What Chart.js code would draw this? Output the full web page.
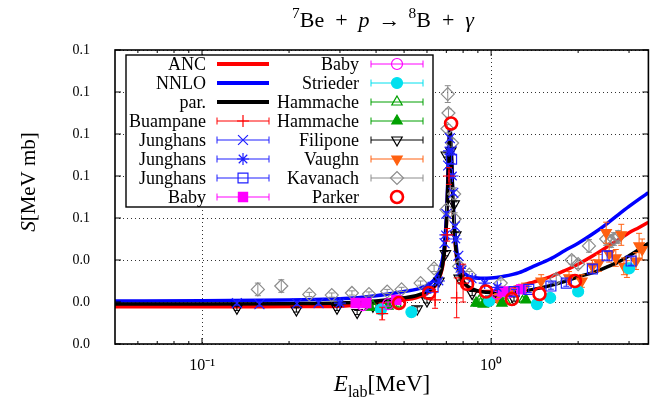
<!DOCTYPE html>
<html>
<head>
<meta charset="utf-8">
<script src="https://cdn.jsdelivr.net/npm/chart.js@4.4.1/dist/chart.umd.min.js"></script>
<style>
  html, body { margin: 0; padding: 0; background: #fff; }
</style>
</head>
<body>
<canvas id="sfactorChart" width="657" height="402"></canvas>
<script>
//Axis ticks
const xMajorTicks = [0.1, 1];
const xTickLabels = ['10\u207B\u00B9', '10\u2070'];
const xMinorTicks = [0.06, 0.07, 0.08, 0.09, 0.2, 0.3, 0.4, 0.5, 0.6, 0.7, 0.8, 0.9, 2, 3];
const yTickValues = [0, 0.02, 0.04, 0.06, 0.08, 0.10, 0.12, 0.14];

//Theory curves, E_lab in MeV, S in MeV mb
const eTheory = [0.05, 0.1, 0.2, 0.3, 0.4, 0.5, 0.55, 0.6, 0.63, 0.65, 0.67, 0.68, 0.69, 0.7, 0.705, 0.71, 0.715, 0.72, 0.725, 0.73, 0.735, 0.74, 0.75, 0.76, 0.77, 0.78, 0.8, 0.83, 0.87, 0.92, 1.0, 1.1, 1.25, 1.4, 1.6, 1.8, 2.0, 2.25, 2.5, 2.75, 3.0, 3.25, 3.5];
const sANC = [0.0177, 0.0177, 0.0178, 0.018, 0.0195, 0.021, 0.022, 0.024, 0.0265, 0.029, 0.0335, 0.037, 0.044, 0.056, 0.066, 0.080, 0.093, 0.100, 0.097, 0.086, 0.074, 0.063, 0.049, 0.041, 0.036, 0.033, 0.0295, 0.027, 0.0255, 0.025, 0.025, 0.0258, 0.0275, 0.0295, 0.032, 0.035, 0.038, 0.042, 0.046, 0.0495, 0.053, 0.0555, 0.058];
const sNNLO = [0.0205, 0.0206, 0.021, 0.0215, 0.023, 0.025, 0.026, 0.0278, 0.030, 0.0325, 0.037, 0.041, 0.048, 0.060, 0.070, 0.083, 0.095, 0.102, 0.099, 0.088, 0.076, 0.066, 0.053, 0.045, 0.040, 0.037, 0.0345, 0.0325, 0.0317, 0.0313, 0.0314, 0.0322, 0.034, 0.037, 0.0405, 0.0445, 0.048, 0.0525, 0.057, 0.0615, 0.0655, 0.069, 0.072];
const sPar = [0.019, 0.019, 0.0192, 0.0195, 0.0205, 0.022, 0.023, 0.025, 0.027, 0.0295, 0.034, 0.038, 0.045, 0.057, 0.067, 0.081, 0.094, 0.101, 0.098, 0.087, 0.075, 0.064, 0.050, 0.042, 0.037, 0.034, 0.030, 0.0275, 0.026, 0.025, 0.0245, 0.0245, 0.025, 0.026, 0.0278, 0.0298, 0.032, 0.034, 0.0365, 0.039, 0.042, 0.045, 0.048];

//Measurements: energy, S factor, error
const buampaneE = [0.42, 0.64, 0.705, 0.715, 0.76, 0.80];
const buampaneS = [0.0145, 0.021, 0.052, 0.080, 0.022, 0.029];
const buampaneErr = [0.003, 0.004, 0.003, 0.004, 0.0095, 0.009];

const junghansXE = [0.132, 0.158, 0.213, 0.253, 0.69, 0.70, 0.71, 0.72, 0.73, 0.74, 0.75, 0.77, 0.79];
const junghansXS = [0.0195, 0.019, 0.0193, 0.0195, 0.048, 0.062, 0.085, 0.098, 0.092, 0.072, 0.056, 0.042, 0.035];
const junghansXErr = [0.001, 0.001, 0.001, 0.001, 0.001, 0.001, 0.001, 0.001, 0.001, 0.001, 0.001, 0.001, 0.001];

const junghansStarE = [0.30, 0.60, 0.66, 0.695, 0.715, 0.735, 0.755, 0.78, 0.86, 0.95, 1.05];
const junghansStarS = [0.0195, 0.026, 0.030, 0.052, 0.092, 0.080, 0.050, 0.036, 0.031, 0.029, 0.027];
const junghansStarErr = [0.001, 0.001, 0.001, 0.001, 0.001, 0.001, 0.001, 0.001, 0.001, 0.001, 0.001];

const junghansSqE = [0.63, 0.73, 1.2, 1.35, 1.61, 1.82, 2.24, 2.52, 3.05];
const junghansSqS = [0.027, 0.088, 0.025, 0.026, 0.0276, 0.029, 0.0357, 0.042, 0.0395];
const junghansSqErr = [0.001, 0.002, 0.001, 0.0015, 0.0015, 0.0015, 0.002, 0.002, 0.002];

const babySqE = [0.34, 0.37, 0.47, 1.1, 1.27];
const babySqS = [0.0195, 0.0195, 0.021, 0.025, 0.026];
const babySqErr = [0.001, 0.001, 0.001, 0.001, 0.001];

const babyCircE = [0.36, 0.44, 1.05, 1.15];
const babyCircS = [0.0185, 0.019, 0.024, 0.0245];
const babyCircErr = [0.001, 0.001, 0.001, 0.001];

const striederE = [0.416, 0.53, 0.985, 1.44, 1.6, 2.0, 3.0];
const striederS = [0.0165, 0.0152, 0.0205, 0.019, 0.022, 0.025, 0.036];
const striederErr = [0.001, 0.001, 0.001, 0.001, 0.001, 0.001, 0.0015];

const hammacheOpenE = [0.39, 0.47, 0.91, 1.12, 1.3];
const hammacheOpenS = [0.018, 0.019, 0.0205, 0.0205, 0.0215];
const hammacheOpenErr = [0.001, 0.001, 0.001, 0.001, 0.001];

const hammacheFullE = [0.38, 0.44, 0.887, 0.94, 1.09, 1.32];
const hammacheFullS = [0.0175, 0.018, 0.0195, 0.019, 0.0195, 0.021];
const hammacheFullErr = [0.0012, 0.0012, 0.0015, 0.0012, 0.0012, 0.0012];

const filiponeE = [0.132, 0.212, 0.293, 0.344, 0.39, 0.555, 0.60, 0.66, 0.695, 0.70, 0.725, 0.745, 0.755, 0.775, 0.86, 1.0, 1.2];
const filiponeS = [0.017, 0.0162, 0.017, 0.015, 0.018, 0.0167, 0.0205, 0.030, 0.043, 0.090, 0.092, 0.0667, 0.052, 0.0314, 0.024, 0.0214, 0.0214];
const filiponeErr = [0.001, 0.001, 0.001, 0.001, 0.001, 0.001, 0.001, 0.001, 0.001, 0.001, 0.001, 0.001, 0.001, 0.001, 0.001, 0.001, 0.001];

const vaughnE = [1.0, 1.05, 1.17, 1.3, 1.49, 1.86, 2.06, 2.24, 2.36, 2.5, 2.56, 2.7, 2.82, 2.88, 2.95, 3.17, 3.25, 3.33];
const vaughnS = [0.021, 0.022, 0.025, 0.027, 0.030, 0.0315, 0.030, 0.037, 0.0386, 0.053, 0.043, 0.041, 0.052, 0.037, 0.0357, 0.0395, 0.0467, 0.045];
const vaughnErr = [0.002, 0.002, 0.002, 0.002, 0.003, 0.003, 0.003, 0.003, 0.004, 0.005, 0.004, 0.004, 0.005, 0.004, 0.004, 0.004, 0.006, 0.005];

const kavanachE = [0.156, 0.188, 0.235, 0.281, 0.33, 0.378, 0.437, 0.49, 0.57, 0.635, 0.70, 0.706, 0.708, 0.712, 0.733, 0.745, 0.748, 0.775, 0.84, 1.08, 1.68, 1.9, 2.0, 2.18, 2.5, 2.6, 2.66, 2.75];
const kavanachS = [0.026, 0.0276, 0.0236, 0.0233, 0.0243, 0.0238, 0.025, 0.026, 0.029, 0.036, 0.064, 0.1025, 0.119, 0.110, 0.0957, 0.0714, 0.0595, 0.037, 0.033, 0.029, 0.031, 0.040, 0.038, 0.0467, 0.050, 0.049, 0.050, 0.051];
const kavanachErr = [0.003, 0.003, 0.001, 0.001, 0.001, 0.001, 0.001, 0.001, 0.001, 0.0015, 0.002, 0.002, 0.004, 0.002, 0.002, 0.003, 0.003, 0.002, 0.0015, 0.0015, 0.002, 0.002, 0.002, 0.003, 0.003, 0.003, 0.003, 0.003];

const parkerE = [0.48, 0.61, 0.727, 0.826, 0.96, 1.18, 1.47, 1.95];
const parkerS = [0.0195, 0.0243, 0.105, 0.0286, 0.025, 0.0214, 0.0238, 0.030];

const SERIF = '"Liberation Serif", "Times New Roman", serif';
Chart.defaults.font.family = SERIF;
Chart.defaults.color = '#000';

function pts(e, s) {
  return e.map(function (x, i) { return { x: x, y: s[i] }; });
}

// higher order is drawn first, so par. ends up above NNLO and ANC
function curve(label, s, color, order) {
  return {
    label: label, data: pts(eTheory, s),
    borderColor: color, borderWidth: 3.5, pointRadius: 0,
    cubicInterpolationMode: 'monotone', fill: false, order: order,
    legendLine: true
  };
}

function points(label, e, s, err, color, style, opts) {
  return Object.assign({
    label: label, data: pts(e, s), errors: err, showLine: false,
    borderColor: color, backgroundColor: 'rgba(0,0,0,0)',
    pointBorderColor: color, pointBackgroundColor: 'rgba(0,0,0,0)',
    pointStyle: style, pointRadius: 5.5, pointBorderWidth: 1.2,
    pointRotation: 0, order: 5
  }, opts || {});
}

const datasets = [
  curve('ANC', sANC, '#ff0000', 23),
  curve('NNLO', sNNLO, '#0000ff', 22),
  curve('par.', sPar, '#000000', 21),
  points('Buampane', buampaneE, buampaneS, buampaneErr, '#ff0000', 'cross', { pointRadius: 6 }),
  points('Junghans', junghansXE, junghansXS, junghansXErr, '#1f1fff', 'crossRot', { pointRadius: 7 }),
  points('Junghans', junghansStarE, junghansStarS, junghansStarErr, '#1f1fff', 'star', { pointRadius: 6 }),
  points('Junghans', junghansSqE, junghansSqS, junghansSqErr, '#1f1fff', 'rect', { pointRadius: 7 }),
  points('Baby', babySqE, babySqS, babySqErr, '#ff00ff', 'rect', { pointRadius: 6.5, pointBackgroundColor: '#ff00ff' }),
  points('Baby', babyCircE, babyCircS, babyCircErr, '#ff00ff', 'circle', {}),
  points('Strieder', striederE, striederS, striederErr, '#00e0ee', 'circle', { pointBackgroundColor: '#00e0ee' }),
  points('Hammache', hammacheOpenE, hammacheOpenS, hammacheOpenErr, '#00a000', 'triangle', { pointRadius: 6 }),
  points('Hammache', hammacheFullE, hammacheFullS, hammacheFullErr, '#00a000', 'triangle', { pointRadius: 6, pointBackgroundColor: '#00a000' }),
  points('Filipone', filiponeE, filiponeS, filiponeErr, '#000000', 'triangle', { pointRadius: 6, pointRotation: 180 }),
  points('Vaughn', vaughnE, vaughnS, vaughnErr, '#ff6010', 'triangle', { pointRadius: 6, pointRotation: 180, pointBackgroundColor: '#ff6010' }),
  points('Kavanach', kavanachE, kavanachS, kavanachErr, '#8c8c8c', 'rectRot', { pointRadius: 6.5 }),
  points('Parker', parkerE, parkerS, null, '#ff0000', 'circle', { pointRadius: 6, pointBorderWidth: 2.6, noBar: true, order: 1 })
];

function errAt(ds, i) {
  if (!ds.errors) return 0;
  return Array.isArray(ds.errors) ? ds.errors[i] : ds.errors;
}

//vertical error bars, drawn just under each data set's markers
const errorBars = {
  id: 'errorBars',
  beforeDatasetDraw(chart, args) {
    const ds = chart.data.datasets[args.index];
    if (!ds.errors) return;
    const c = chart.ctx, a = chart.chartArea, yScale = chart.scales.y;
    c.save();
    c.beginPath();
    c.rect(a.left, a.top, a.right - a.left, a.bottom - a.top);
    c.clip();
    c.strokeStyle = ds.borderColor;
    c.lineWidth = 1;
    c.beginPath();
    args.meta.data.forEach(function (pt, i) {
      const err = errAt(ds, i);
      if (!err) return;
      const v = ds.data[i].y;
      const top = yScale.getPixelForValue(v + err);
      const bot = yScale.getPixelForValue(v - err);
      c.moveTo(pt.x, top); c.lineTo(pt.x, bot);
      c.moveTo(pt.x - 3, top); c.lineTo(pt.x + 3, top);
      c.moveTo(pt.x - 3, bot); c.lineTo(pt.x + 3, bot);
    });
    c.stroke();
    c.restore();
  }
};

//text with italic, superscript and subscript pieces
function drawRich(c, parts, cx, baseline, size) {
  function fontOf(p) {
    const small = p.s === 'sup' || p.s === 'sub';
    return (p.i ? 'italic ' : '') + (small ? size * 0.7 : size) + 'px ' + SERIF;
  }
  let w = 0;
  parts.forEach(function (p) {
    c.font = fontOf(p);
    w += (p.pl || 0) + c.measureText(p.t).width + (p.pr || 0);
  });
  let x = cx - w / 2;
  c.textAlign = 'left';
  c.textBaseline = 'alphabetic';
  parts.forEach(function (p) {
    c.font = fontOf(p);
    x += p.pl || 0;
    const dy = p.s === 'sup' ? -size * 0.4 : (p.s === 'sub' ? size * 0.25 : 0);
    c.fillText(p.t, x, baseline + dy);
    x += c.measureText(p.t).width + (p.pr || 0);
  });
}

function marker(c, ds, x, y) {
  c.save();
  c.strokeStyle = ds.pointBorderColor;
  c.fillStyle = ds.pointBackgroundColor;
  c.lineWidth = ds.pointBorderWidth;
  if (Chart.helpers && Chart.helpers.drawPoint) {
    Chart.helpers.drawPoint(c, {
      pointStyle: ds.pointStyle, rotation: ds.pointRotation,
      radius: ds.pointRadius, borderWidth: ds.pointBorderWidth
    }, x, y);
  } else {
    c.beginPath();
    c.arc(x, y, ds.pointRadius, 0, Math.PI * 2);
    c.fill();
    c.stroke();
  }
  c.restore();
}

//frame, inward ticks, key and axis titles
const decorations = {
  id: 'decorations',
  afterDraw(chart) {
    const c = chart.ctx, a = chart.chartArea;
    const xs = chart.scales.x, ys = chart.scales.y;
    c.save();
    c.strokeStyle = '#000';
    c.lineWidth = 1;
    c.beginPath();
    yTickValues.forEach(function (v) {
      const py = ys.getPixelForValue(v);
      c.moveTo(a.left, py); c.lineTo(a.left + 6, py);
      c.moveTo(a.right, py); c.lineTo(a.right - 6, py);
    });
    xMajorTicks.forEach(function (v) {
      const px = xs.getPixelForValue(v);
      c.moveTo(px, a.bottom); c.lineTo(px, a.bottom - 6);
      c.moveTo(px, a.top); c.lineTo(px, a.top + 6);
    });
    xMinorTicks.forEach(function (v) {
      const px = xs.getPixelForValue(v);
      c.moveTo(px, a.bottom); c.lineTo(px, a.bottom - 3);
      c.moveTo(px, a.top); c.lineTo(px, a.top + 3);
    });
    c.stroke();
    c.lineWidth = 1.6;
    c.strokeRect(a.left, a.top, a.right - a.left, a.bottom - a.top);

    // key
    const box = { x1: 126, y1: 55, x2: 433, y2: 207 };
    c.fillStyle = '#fff';
    c.fillRect(box.x1, box.y1, box.x2 - box.x1, box.y2 - box.y1);
    c.lineWidth = 1.4;
    c.strokeRect(box.x1, box.y1, box.x2 - box.x1, box.y2 - box.y1);
    const cols = [{ text: 206, s1: 217, s2: 269 }, { text: 359, s1: 371, s2: 423 }];
    chart.data.datasets.forEach(function (ds, i) {
      const col = cols[i < 8 ? 0 : 1];
      const y = 64 + (i % 8) * 19;
      c.fillStyle = '#000';
      c.font = '18px ' + SERIF;
      c.textAlign = 'right';
      c.textBaseline = 'middle';
      c.fillText(ds.label, col.text, y + 1);
      const mid = (col.s1 + col.s2) / 2;
      if (ds.legendLine) {
        c.strokeStyle = ds.borderColor;
        c.lineWidth = 4;
        c.beginPath(); c.moveTo(col.s1, y); c.lineTo(col.s2, y); c.stroke();
      } else {
        if (!ds.noBar) {
          c.strokeStyle = ds.borderColor;
          c.lineWidth = 1;
          c.beginPath();
          c.moveTo(col.s1, y); c.lineTo(col.s2, y);
          c.moveTo(col.s1, y - 3.5); c.lineTo(col.s1, y + 3.5);
          c.moveTo(col.s2, y - 3.5); c.lineTo(col.s2, y + 3.5);
          c.stroke();
        }
        marker(c, ds, mid, y);
      }
    });

    // titles
    c.fillStyle = '#000';
    drawRich(c, [
      { t: '7', s: 'sup' }, { t: 'Be' }, { t: '+', pl: 11, pr: 11 }, { t: 'p', i: true },
      { t: '\u2192', pl: 9, pr: 8 }, { t: '8', s: 'sup' }, { t: 'B' }, { t: '+', pl: 11, pr: 11 },
      { t: '\u03B3', i: true }
    ], 383, 27, 22);
    drawRich(c, [{ t: 'E', i: true }, { t: 'lab', s: 'sub' }, { t: '[MeV]' }], 382, 391, 23);
    c.save();
    c.translate(35, 182);
    c.rotate(-Math.PI / 2);
    drawRich(c, [{ t: 'S', i: true }, { t: '[MeV mb]' }], 0, 0, 21);
    c.restore();
    c.restore();
  }
};

new Chart(document.getElementById('sfactorChart'), {
  type: 'line',
  data: { datasets: datasets },
  plugins: [errorBars, decorations],
  options: {
    responsive: false,
    animation: false,
    devicePixelRatio: 1,
    layout: { padding: { top: 50, right: 6, bottom: 0, left: 0 } },
    plugins: { legend: { display: false }, tooltip: { enabled: false }, title: { display: false } },
    scales: {
      x: {
        type: 'logarithmic', min: 0.05, max: 3.5,
        afterBuildTicks: function (s) { s.ticks = xMajorTicks.map(function (v) { return { value: v }; }); },
        afterFit: function (s) { s.height = 58; },
        ticks: {
          autoSkip: false, maxRotation: 0, padding: 12, font: { size: 16 },
          callback: function (v) { return xTickLabels[xMajorTicks.indexOf(v)]; }
        },
        grid: { color: '#333', lineWidth: 1, drawTicks: false },
        border: { display: false, dash: [1, 3] }
      },
      y: {
        min: 0, max: 0.14,
        afterBuildTicks: function (s) { s.ticks = yTickValues.map(function (v) { return { value: v }; }); },
        afterFit: function (s) { s.width = 115; },
        ticks: {
          padding: 25, font: { size: 14 },
          callback: function (v) { return v.toFixed(1); }
        },
        grid: { color: '#333', lineWidth: 1, drawTicks: false },
        border: { display: false, dash: [1, 3] }
      }
    }
  }
});
</script>
</body>
</html>
